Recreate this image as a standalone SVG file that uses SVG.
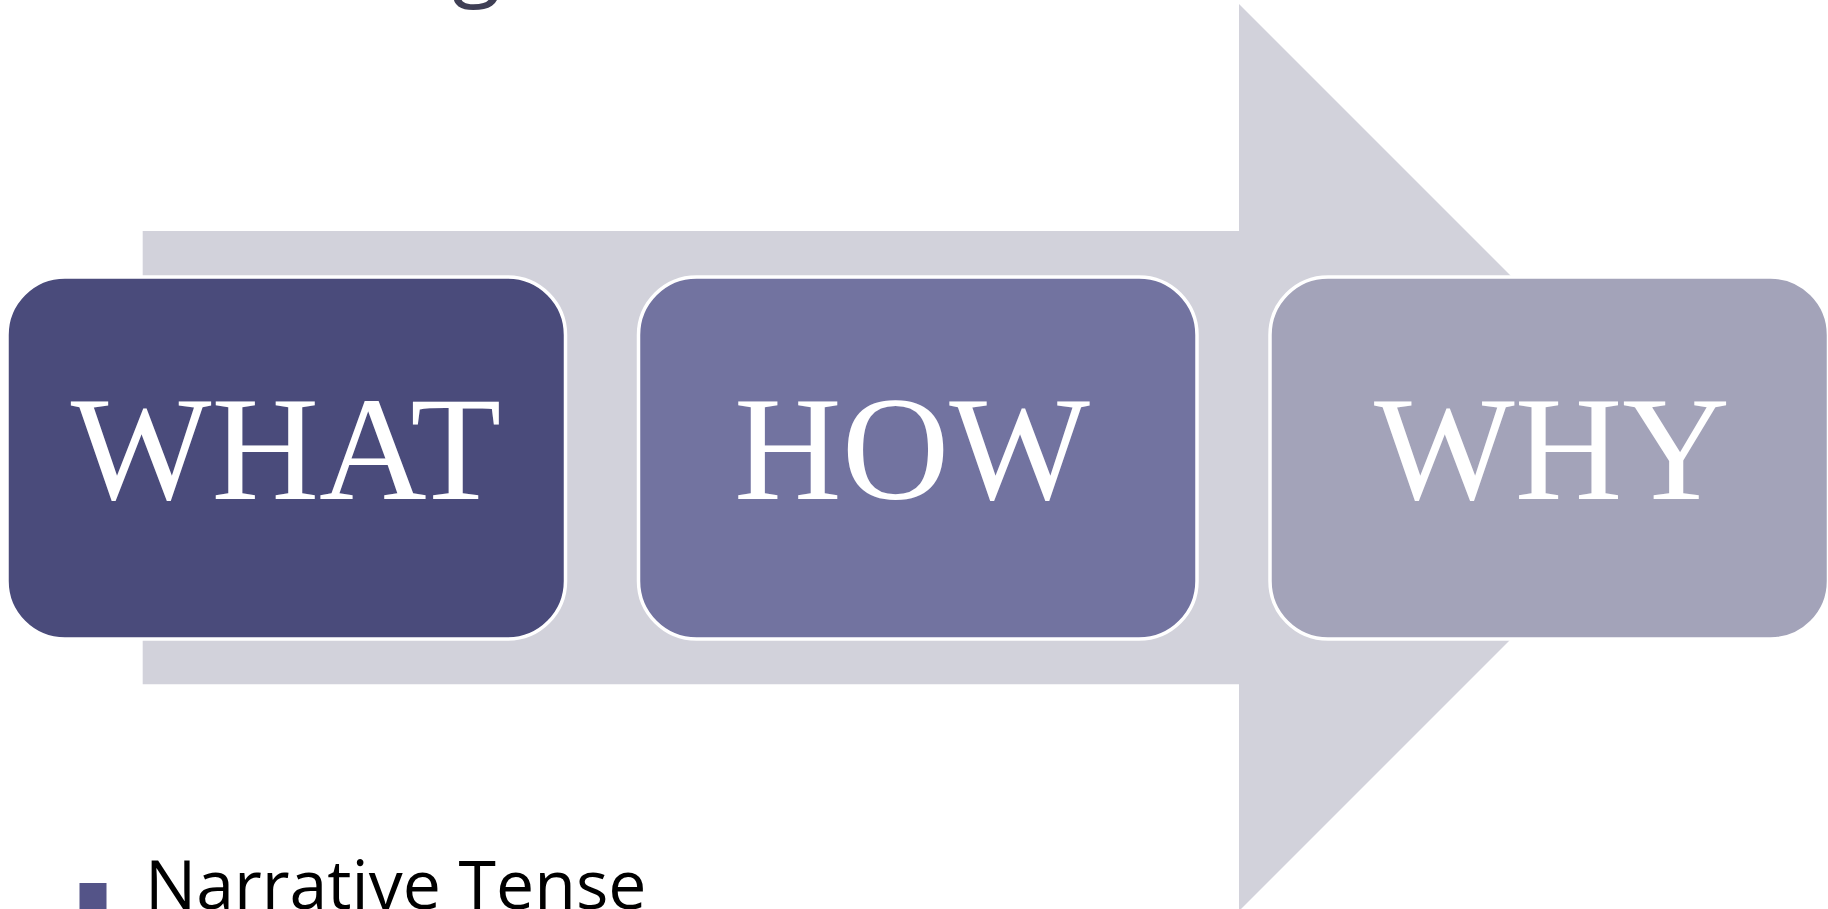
<svg xmlns="http://www.w3.org/2000/svg" width="1828" height="909" viewBox="0 0 1828 909">
  <style>
    .node { stroke: #FFFFFF; stroke-width: 3.5; }
    .label { font-family: "Liberation Serif", "DejaVu Serif", serif; font-size: 149px; fill: #FFFFFF; text-anchor: middle; }
    .body { font-family: "Open Sans", "Noto Sans", sans-serif; font-size: 68px; fill: #000000; }
  </style>
  <rect width="1828" height="909" fill="#FFFFFF"/>
  <text x="452" y="-12" font-family="Open Sans, Noto Sans, sans-serif" font-size="90" fill="#3F3F55">g</text>
  <g id="connectors">
    <polygon points="142.7,231 1239,231 1239,4 1692.5,457.5 1239,911 1239,684.3 142.7,684.3" fill="#D2D2DB"/>
  </g>
  <g id="node-what">
    <rect class="node" x="7" y="277" width="558.5" height="362" rx="58" ry="58" fill="#4A4B7B"/>
    <text class="label" x="286" y="499">WHAT</text>
  </g>
  <g id="node-how">
    <rect class="node" x="638.5" y="277" width="558.5" height="362" rx="58" ry="58" fill="#7273A0"/>
    <text class="label" x="912" y="499">HOW</text>
  </g>
  <g id="node-why">
    <rect class="node" x="1270" y="277" width="558.5" height="362" rx="58" ry="58" fill="#A3A3B9"/>
    <text class="label" x="1552" y="499">WHY</text>
  </g>
  <g id="bullet">
    <rect x="79.5" y="883" width="27" height="30" fill="#545488"/>
    <text class="body" x="145" y="909">Narrative Tense</text>
  </g>
</svg>
